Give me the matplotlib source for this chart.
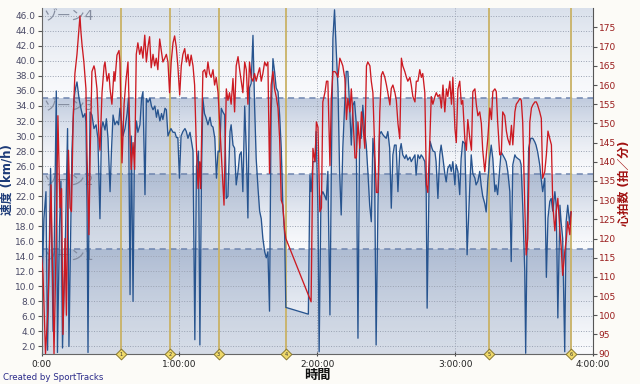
import matplotlib
matplotlib.use('Agg')
import matplotlib.pyplot as plt
import numpy as np
from matplotlib.colors import LinearSegmentedColormap
from matplotlib.transforms import blended_transform_factory

plt.rcParams['font.family'] = ['DejaVu Sans', 'Noto Sans CJK JP']

# ---------------- data (time in minutes) ----------------
speed_t = [0.0, 0.4, 1.0, 1.9, 2.6, 3.9, 5.0, 6.4, 6.9, 7.8, 8.4, 9.1, 10.2, 11.3, 11.9, 12.6, 13.2, 14.1,
           14.8, 15.4, 16.3, 17.1, 18.0, 18.9, 19.3, 19.8, 20.2, 20.6, 21.1, 21.9, 22.8, 23.7, 24.5, 25.4,
           26.1, 26.7, 27.6, 28.2, 28.9, 29.8, 30.4, 31.1, 31.9, 32.8, 33.5, 34.1, 34.8, 35.4, 36.3, 37.2,
           37.8, 38.5, 39.1, 39.8, 40.4, 41.3, 41.9, 42.8, 43.5, 44.1, 45.0, 45.6, 46.3, 47.2, 47.8, 48.5,
           49.3, 50.0, 50.6, 51.5, 52.2, 52.8, 53.7, 54.3, 55.0, 55.6, 56.3, 57.2, 58.0, 58.7, 59.3, 60.0,
           60.7, 61.5, 62.4, 63.0, 63.7, 64.6, 65.4, 65.9, 66.7, 67.4, 68.3, 68.9, 69.6, 70.2, 70.9, 71.5,
           72.4, 73.3, 73.9, 74.6, 75.4, 76.1, 76.8, 77.5, 78.2, 78.9, 79.7, 80.4, 81.1, 82.0, 82.5, 83.3,
           84.0, 84.7, 85.5, 86.2, 86.9, 87.6, 88.4, 89.1, 89.8, 90.5, 91.2, 92.0, 92.7, 93.4, 94.2, 94.9,
           95.6, 96.3, 97.1, 97.8, 98.5, 99.2, 99.9, 100.7, 101.4, 102.1, 102.9, 103.6, 104.3, 105.0, 105.8,
           106.3, 116.1, 116.8, 117.3, 118.1, 119.0, 119.5, 120.3, 120.8, 121.6, 122.4, 123.3, 123.9, 124.6,
           125.5, 126.1, 126.8, 127.5, 128.2, 129.0, 129.7, 130.4, 131.1, 131.9, 132.6, 133.3, 134.1, 134.8,
           135.5, 136.2, 136.9, 137.7, 138.4, 139.1, 139.8, 140.6, 141.3, 142.0, 142.8, 143.5, 144.2, 144.9,
           145.6, 146.4, 147.1, 147.8, 148.5, 149.3, 150.0, 150.7, 151.5, 152.2, 152.9, 153.6, 154.3, 155.1,
           155.9, 156.5, 157.2, 158.1, 158.7, 159.4, 160.3, 160.9, 161.6, 162.5, 163.0, 163.8, 164.6, 165.2,
           165.9, 166.8, 167.4, 167.8, 168.6, 169.1, 169.9, 170.4, 171.2, 171.7, 172.5, 173.3, 173.9, 174.7,
           175.5, 176.1, 176.8, 177.7, 178.3, 179.0, 179.9, 180.4, 181.2, 182.0, 182.6, 183.3, 184.2, 184.8,
           185.2, 186.4, 187.0, 187.7, 188.6, 189.1, 189.9, 190.7, 191.3, 192.0, 192.9, 193.5, 194.2, 195.0,
           195.7, 196.4, 197.3, 197.8, 198.5, 199.4, 200.0, 200.7, 201.6, 202.2, 202.9, 203.8, 204.4, 205.1,
           206.0, 206.5, 207.3, 208.2, 208.7, 209.4, 210.3, 210.7, 211.3, 212.0, 212.9, 213.8, 214.7, 215.2,
           215.9, 216.8, 217.4, 218.1, 219.0, 219.7, 220.4, 221.2, 221.8, 222.5, 223.4, 224.0, 224.7, 225.6,
           226.1, 226.8, 227.7, 228.3, 229.0, 229.9, 230.3]
speed_v = [22, 12, 19, 22.6, 1.5, 25.7, 4, 36, 1.2, 18, 24, 1.8, 14, 31, 2, 16, 28, 35,
           36.4, 37.2, 35, 33.7, 32.5, 33, 31.9, 20, 1.2, 20, 33.2, 32.8, 31, 31.5, 29.7, 19,
           31, 31.9, 30.8, 32.3, 29.7, 22.6, 28, 32.8, 31.5, 32, 31.5, 33.7, 31.9, 30, 31, 33,
           35, 8.9, 30, 8, 28, 32, 30.5, 31.5, 35, 35.9, 22.2, 35, 34.5, 35, 34, 33.5,
           34, 32.5, 33.5, 32, 33, 32.2, 33.7, 33.5, 30, 30.5, 31, 30.5, 30.5, 29.8, 29.8, 24.4,
           30, 30.6, 31, 30.6, 29.7, 30.5, 29, 28, 2.9, 26, 28, 2.2, 25, 35, 33, 32.5,
           31.5, 32.5, 31.4, 31.2, 29.7, 24.4, 28, 27.9, 33.7, 33.2, 32.8, 21.7, 22, 30.6, 31.5, 28.8,
           28.4, 23.5, 25.3, 27.5, 27.9, 22.6, 34, 28, 19.1, 36.4, 37, 43.4, 34.1, 27, 23, 20,
           19, 16.4, 14.6, 13.8, 14.6, 6.7, 33, 40.3, 38.6, 36.4, 35.9, 32.8, 28.4, 20.8, 16.8,
           7.2, 6.3, 24.8, 22.6, 26.6, 26.6, 30.6, 20, 1.3, 22, 22.6, 22, 21.5, 25.3,
           6.2, 25.3, 43, 46.8, 41.7, 36.4, 25.3, 19.5, 28.4, 34.1, 38.6, 38.6, 33.7, 28.8,
           34.1, 34.6, 31.9, 3.1, 29.7, 29.7, 34.1, 30.6, 28.8, 25.3, 20.8, 18.6, 29.7, 27,
           2.2, 20.8, 30.2, 30.6, 30.2, 29.9, 29.7, 30.6, 28.4, 20.4, 27.5, 28.8, 28.8, 22.6,
           28, 29, 27.5, 27, 27.5, 26.8, 27.2, 26.6, 27, 27.5, 24.8, 27.5, 27, 27.5,
           27.2, 26.6, 22.6, 7.1, 22.6, 29.3, 28.4, 28, 27.9, 26.6, 21.7, 27.5, 28.8, 27,
           25, 23.9, 25.7, 26.2, 25.3, 26.6, 23.5, 26.2, 25.3, 22.2, 27, 29.3, 29, 21.3,
           14.2, 23.5, 27.5, 25, 24.4, 23.5, 24, 25.3, 23.5, 22, 21, 19.9, 24, 27,
           28.8, 27, 22.6, 23.5, 22.2, 25.7, 27.9, 27.5, 27, 26.6, 25.3, 22.6, 13.3, 26.2,
           27.5, 27.2, 27, 26.8, 26.2, 20.8, 12, 1.1, 16.4, 28.4, 29.7, 29.7, 29.2, 28.8,
           27.9, 26.2, 24.4, 22.6, 24.4, 11.2, 19.1, 21.3, 21.7, 20, 22.6, 20.8, 5.8, 20.8,
           18.6, 16.4, 1.3, 18.6, 20.8, 18.2, 19.9]

hr_t = [0.0, 0.6, 1.7, 2.8, 4.1, 5.4, 6.3, 7.1, 8.0, 8.7, 9.3, 10.2, 10.8, 11.7, 12.4, 13.0, 13.7, 14.5,
        15.4, 16.7, 17.1, 17.6, 18.4, 19.3, 19.8, 20.6, 21.1, 21.9, 22.8, 23.2, 24.1, 25.0, 25.4, 26.3,
        27.2, 27.6, 28.5, 29.3, 29.8, 30.6, 31.5, 31.9, 32.8, 33.7, 34.1, 35.0, 35.9, 36.7, 37.6, 38.3,
        39.0, 39.8, 40.5, 41.2, 41.9, 42.7, 43.4, 44.1, 44.9, 45.6, 46.3, 47.0, 47.7, 48.5, 49.2, 49.9,
        50.6, 51.4, 52.1, 52.8, 53.6, 54.3, 55.0, 55.7, 56.4, 57.2, 57.9, 58.6, 59.3, 60.1, 60.8, 61.5,
        62.3, 63.0, 63.7, 64.4, 65.1, 65.9, 66.6, 67.3, 68.1, 68.8, 69.2, 70.2, 71.0, 71.7, 72.4, 73.1,
        73.8, 74.6, 75.3, 76.0, 76.8, 77.5, 78.2, 79.4, 80.4, 81.1, 81.8, 82.5, 83.3, 84.0, 84.7, 85.5,
        86.2, 86.9, 87.6, 88.4, 89.1, 89.8, 90.5, 91.2, 92.0, 92.7, 93.4, 94.2, 94.9, 95.6, 96.3, 97.1,
        97.8, 98.5, 99.2, 99.9, 100.7, 101.4, 102.1, 102.9, 103.6, 104.3, 105.0, 105.8, 106.3, 116.3,
        117.3, 118.1, 119.0, 119.6, 120.3, 121.1, 121.8, 122.4, 123.3, 124.0, 124.6, 125.5, 126.1, 126.8,
        127.7, 128.3, 129.0, 129.8, 130.5, 131.1, 132.0, 132.7, 133.3, 134.2, 134.8, 135.5, 136.4, 137.0,
        137.7, 138.5, 139.2, 139.8, 140.7, 141.4, 142.0, 142.9, 143.5, 144.2, 145.1, 145.7, 146.4, 147.2,
        147.9, 148.5, 149.4, 150.1, 150.7, 151.6, 152.2, 152.9, 153.8, 154.4, 155.1, 155.9, 156.6, 157.2,
        158.1, 158.8, 159.4, 160.3, 160.9, 161.6, 162.5, 163.1, 163.8, 164.6, 165.3, 165.9, 166.8, 167.5,
        168.1, 169.0, 169.6, 170.3, 171.2, 171.8, 172.5, 173.3, 174.0, 174.7, 175.5, 176.2, 176.8, 177.7,
        178.4, 179.0, 179.9, 180.5, 181.2, 182.0, 182.7, 183.3, 184.2, 184.9, 185.5, 186.4, 187.1, 187.7,
        188.6, 189.2, 189.9, 190.7, 191.4, 192.0, 192.9, 193.6, 194.2, 195.1, 195.8, 196.4, 197.3, 197.9,
        198.5, 199.4, 200.1, 200.7, 201.6, 202.3, 202.9, 203.8, 204.5, 205.1, 206.0, 206.6, 207.3, 208.2,
        208.8, 209.4, 210.3, 210.9, 211.6, 212.5, 213.2, 213.8, 214.7, 215.3, 215.9, 216.8, 217.5, 218.1,
        219.0, 219.7, 220.4, 221.2, 221.9, 222.5, 223.4, 224.0, 224.7, 225.6, 226.2, 226.8, 227.7, 228.4,
        229.0, 229.9, 230.5]
hr_v = [115, 111, 90, 102, 134, 90, 118, 152, 128, 133, 95, 120, 100, 143, 128, 127, 150, 163,
        168, 178, 174, 170.5, 166, 159, 141, 121, 141, 163.5, 165, 164, 159, 146, 143, 158,
        165, 166, 161, 163, 159, 155, 163.5, 161, 167.8, 169, 166, 139.7, 155, 161, 166, 150,
        138, 145, 138, 168, 171, 168, 170, 167, 173, 166, 170, 172.6, 164.5, 168, 165, 167,
        164, 172, 169, 166, 167, 168, 166, 158, 166, 171, 172.8, 170, 165, 157.4, 165, 168,
        169.5, 166, 168, 165, 167.8, 165, 160, 145, 133, 140, 133, 163.5, 164, 162, 166, 163,
        162, 164, 160, 162, 158, 150, 142, 128.7, 159, 156, 158, 155, 161.7, 153, 165, 167.4,
        164, 161, 158, 166, 164, 155, 166, 162, 161, 163, 161, 163, 164.5, 161, 163, 166,
        165, 166, 137, 160, 163.5, 159, 157, 154, 146, 130, 128.7, 122, 120, 105,
        103.5, 143.5, 140, 150.4, 149, 127, 128, 155.6, 158, 161, 161, 139, 156.5, 163.5,
        163.5, 163, 162, 167, 166, 165, 161.7, 151, 156.5, 153, 159, 152, 141, 141,
        150.4, 143.5, 153, 150, 143.5, 165, 166, 165, 161, 158, 141, 132, 132, 153,
        162.6, 163.5, 162, 160, 158, 154.8, 159.1, 160, 158, 156, 150, 146, 167, 165,
        163.5, 162, 161, 162, 160, 157, 155.6, 161, 161, 164, 162, 163, 158, 134,
        132, 146, 157, 155, 157, 158, 157, 157.5, 154, 160, 153, 159, 157, 161,
        155, 162, 148.7, 145, 159, 161, 155, 156, 146, 143, 151, 146, 143, 158.3,
        159, 155, 152, 153, 150, 143, 137.4, 142, 146, 154, 151, 158.3, 159, 158.3,
        150.4, 141.8, 142, 153, 152, 148, 146, 144.4, 149.5, 144.4, 153, 155, 155.6, 156.5,
        156, 150.4, 128.7, 115.7, 120, 150.4, 154, 154.8, 155.6, 155.6, 154.8, 153, 151.3, 135.7,
        137.4, 141.8, 148, 146, 144.4, 128.7, 122, 127, 130.5, 122, 117.4, 110.4, 116.5, 120,
        124.4, 121, 127]

lap_t = [34.5, 55.9, 77.0, 106.3, 194.7, 230.5]
lap_labels = ['1', '2', '3', '4', '5', '6']
zone_edges = [1, 15, 25, 35, 47]
zone_names = ['ゾーン1', 'ゾーン2', 'ゾーン3', 'ゾーン4']
xtick_min = [0, 60, 120, 180, 240]
xtick_labels = ['0:00', '1:00:00', '2:00:00', '3:00:00', '4:00:00']
speed_ticks = list(range(2, 47, 2))
hr_ticks = list(range(90, 180, 5))

# ---------------- figure ----------------
fig = plt.figure(figsize=(6.4, 3.84), dpi=100, facecolor='#fcfbf7')
ax = fig.add_axes([41.6 / 640, 30 / 384, (593 - 41.6) / 640, (354 - 8.3) / 384])
ax.set_facecolor('#f8f9fb')

grad = np.linspace(0, 1, 200).reshape(-1, 1) ** 1.4
cmap_band = LinearSegmentedColormap.from_list('band', ['#f9fafc', '#c0cbde'])
cmap_top = LinearSegmentedColormap.from_list('top', ['#f9fafc', '#d9e0eb'])
for i in range(4):
    lo, hi = zone_edges[i], zone_edges[i + 1]
    ax.imshow(grad, extent=[0, 240, lo, hi], origin='lower', aspect='auto',
              cmap=cmap_top if i == 3 else cmap_band, vmin=0, vmax=1, zorder=0,
              interpolation='bilinear')
    if i > 0:
        ax.axhline(lo, color='#6d84ae', ls=(0, (4, 3)), lw=1.1, zorder=2)
    ax.text(1.0, hi - 0.1, zone_names[i], ha='left', va='top', fontsize=10,
            color='#7d8598', alpha=0.9, zorder=2.5)

ax.fill_between(speed_t, 1, speed_v, color='#8498b8', alpha=0.3, lw=0, zorder=1)
for t in lap_t:
    ax.axvline(t, color='#c9b266', lw=1.3, zorder=3)
ax.plot(speed_t, speed_v, color='#27548f', lw=0.95, zorder=4)

ax.set_xlim(0, 240)
ax.set_ylim(1, 47)
ax.set_yticks(speed_ticks)
ax.set_yticklabels([f'{v:.1f}' for v in speed_ticks])
ax.set_xticks(xtick_min)
ax.set_xticklabels(xtick_labels)
ax.grid(True, color='#9aa2b2', ls=':', lw=0.7)
ax.tick_params(axis='y', labelsize=6.5, labelcolor='#4a4a66', color='#555555', length=3, width=0.8, pad=1.5)
ax.tick_params(axis='x', labelsize=6.5, labelcolor='#222222', color='#444444', length=3, width=0.8,
               direction='inout', pad=3)
for s in ['top', 'right']:
    ax.spines[s].set_visible(False)
for s in ['left', 'bottom']:
    ax.spines[s].set_color('#666666')

ax2 = ax.twinx()
ax2.plot(hr_t, hr_v, color='#cc1a22', lw=0.95, zorder=5)
ax2.set_ylim(89.9, 180)
ax2.set_yticks(hr_ticks)
ax2.tick_params(axis='y', labelsize=6.5, labelcolor='#9a1c1c', color='#555555', length=3, width=0.8, pad=1)
for s in ['top', 'left', 'bottom']:
    ax2.spines[s].set_visible(False)
ax2.spines['right'].set_color('#555555')

tr = blended_transform_factory(ax2.transData, ax2.transAxes)
ax2.scatter(lap_t, [0] * len(lap_t), transform=tr, marker='D', s=30, facecolor='#efd96a',
            edgecolor='#8a7a30', linewidth=0.7, clip_on=False, zorder=10)
for t, lab in zip(lap_t, lap_labels):
    ax2.text(t, 0, lab, transform=tr, ha='center', va='center', fontsize=3.5, color='#333333',
             zorder=11, clip_on=False)

fig.text(7 / 640, 1 - 180 / 384, '速度 (km/h)', rotation=90, ha='center', va='center',
         fontsize=8.5, fontweight='bold', color='#1c3a78')
fig.text(624 / 640, 1 - 183 / 384, '心拍数 (拍／分)', rotation=90, ha='center', va='center',
         fontsize=8.5, fontweight='bold', color='#a01010')
fig.text(317 / 640, 1 - 375 / 384, '時間', ha='center', va='center', fontsize=9.5,
         fontweight='bold', color='#111111')
fig.text(3 / 640, 1 - 378 / 384, 'Created by SportTracks', ha='left', va='center', fontsize=6.2,
         color='#2b2b8a')

fig.savefig('out.png', dpi=100, facecolor=fig.get_facecolor())
